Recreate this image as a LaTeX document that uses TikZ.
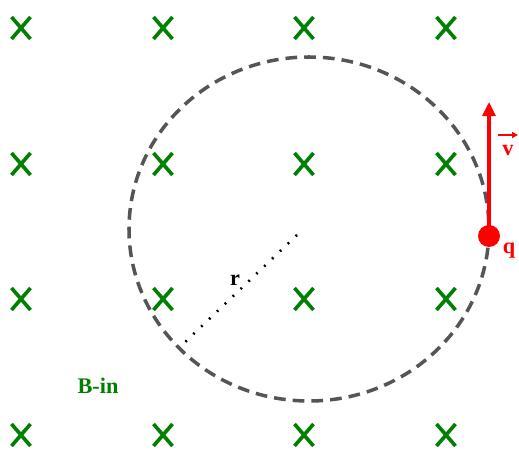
\documentclass[tikz,border=0pt]{standalone}
\usepackage{fontspec}
\setmainfont{Liberation Serif}
\usetikzlibrary{arrows.meta}
\definecolor{fieldgreen}{HTML}{008000}
\definecolor{orbitgray}{HTML}{555555}
\begin{document}
\begin{tikzpicture}[x=0.03cm,y=-0.03cm,
  cross/.style={line width=3.1pt,fieldgreen},
  lbl/.style={font=\bfseries\fontsize{19}{22}\selectfont,inner sep=0pt}]
  \useasboundingbox (0,0) rectangle (519,452);
  % field lines into the page
  \foreach \x in {21,163,304,446}
    \foreach \y in {28,164,299,435}
      \draw[cross] (\x-9.5,\y-11) -- (\x+9.5,\y+11) (\x-9.5,\y+11) -- (\x+9.5,\y-11);
  % circular orbit
  \draw[orbitgray,line width=3pt,dash pattern=on 10pt off 6pt] (309,229) ellipse [x radius=180,y radius=172];
  % radius
  \coordinate (rin) at (297,235);
  \coordinate (rout) at (181,346);
  \draw[line width=2.2pt,dash pattern=on 1.6pt off 7.7pt] (rin) -- (rout);
  \node[lbl] (rlabel) at (235,280) {r};
  % charge and velocity
  \node[circle,fill=red,minimum size=0.66cm,inner sep=0pt] (q) at (489,236) {};
  \coordinate (vtip) at (489,102);
  \draw[red,line width=2.6pt,-{Triangle[length=12pt,width=11pt]}] (q.center) -- (vtip);
  \node[lbl,red] (qlabel) at (509,251) {q};
  \node[lbl,red] (vlabel) at (508,151) {v};
  \coordinate (va) at (498,135);
  \coordinate (vb) at (518,135);
  \draw[red,line width=1.3pt,-{Triangle[length=5pt,width=5pt]}] (va) -- (vb);
  \node[lbl,fieldgreen] (blabel) at (98,386) {B-in};
\end{tikzpicture}
\end{document}
